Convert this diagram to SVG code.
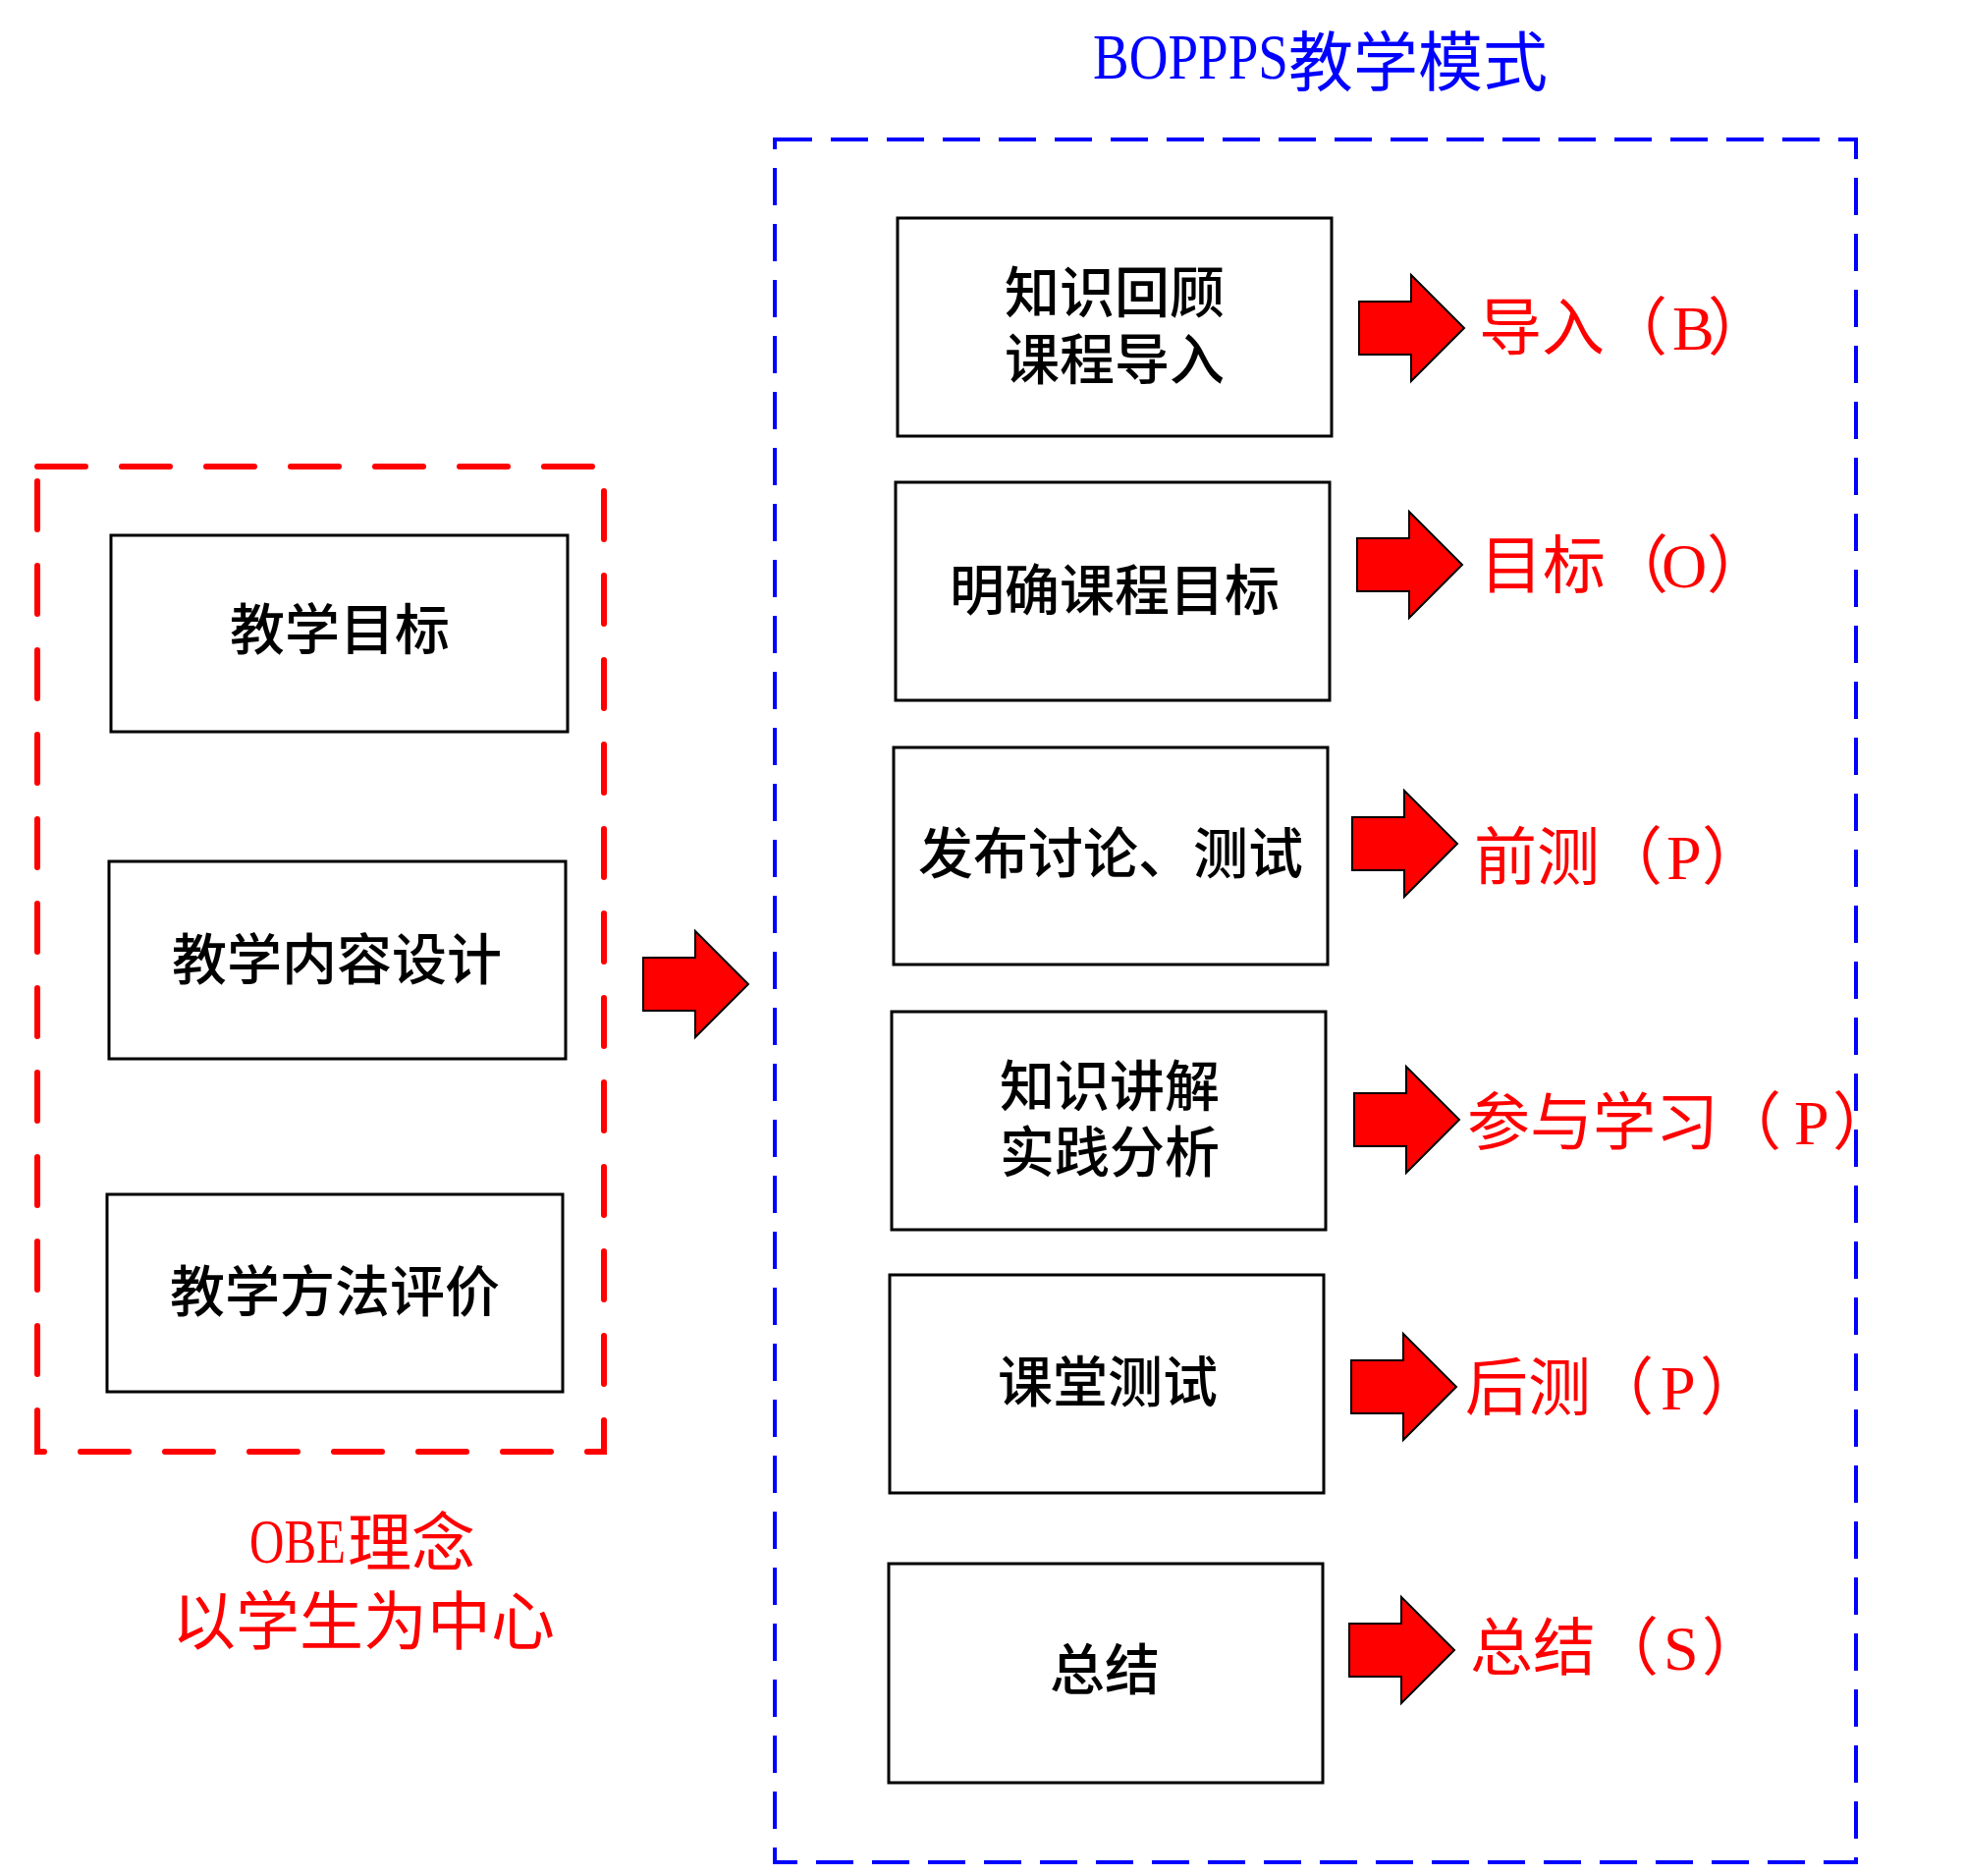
<svg xmlns="http://www.w3.org/2000/svg" xmlns:xlink="http://www.w3.org/1999/xlink" width="2000" height="1910" viewBox="0 0 2000 1910">
<style>
.box{fill:#fff;stroke:#000;stroke-width:3}
.cjk{font-family:"Noto Sans CJK SC","Noto Sans",sans-serif}
.lat{font-family:"Liberation Serif","Times New Roman",serif}
.bt{font-family:"Noto Sans CJK SC","Noto Sans",sans-serif;font-size:56px;font-weight:500;fill:#000;text-anchor:middle}
.rl{font-family:"Noto Sans CJK SC","Noto Sans",sans-serif;font-size:64px;fill:#f00}
.arrow{fill:#f00;stroke:#000;stroke-width:2;stroke-linejoin:miter}
</style>
<defs>
<path id="arr" d="M0,-27 H53 V-54 L107,0 L53,54 V27 H0 Z"/>
</defs>
<rect width="2000" height="1910" fill="#fff"/>

<g id="title">
<text fill="#0000ff" font-size="66"><tspan class="lat" x="1113" y="80" textLength="199" lengthAdjust="spacingAndGlyphs">BOPPPS</tspan><tspan class="cjk" x="1312" y="87">教学模式</tspan></text>
</g>

<g id="obe-frame">
<rect x="38" y="475" width="577" height="1003" fill="none" stroke="#f00" stroke-width="6" stroke-dasharray="49 37" stroke-linecap="round"/>
</g>
<g id="boppps-frame">
<rect x="789" y="142" width="1101" height="1754" fill="none" stroke="#0000ff" stroke-width="4" stroke-dasharray="38 19"/>
</g>

<g id="node-jxmb">
<rect class="box" x="113" y="545" width="465" height="200"/>
<text class="bt" x="346" y="661">教学目标</text>
</g>
<g id="node-jxnrsj">
<rect class="box" x="111" y="877" width="465" height="201"/>
<text class="bt" x="343" y="997">教学内容设计</text>
</g>
<g id="node-jxffpj">
<rect class="box" x="109" y="1216" width="464" height="201"/>
<text class="bt" x="341" y="1335">教学方法评价</text>
</g>

<g id="obe-label">
<text fill="#f00" font-size="65"><tspan class="lat" x="254" y="1591" font-size="64" textLength="98" lengthAdjust="spacingAndGlyphs">OBE</tspan><tspan class="cjk" x="354" y="1594">理念</tspan><tspan class="cjk" x="175" y="1674">以学生为中心</tspan></text>
</g>

<g id="node-r1">
<rect class="box" x="914" y="222" width="442" height="222"/>
<text class="bt"><tspan x="1135" y="318">知识回顾</tspan><tspan x="1135" y="386">课程导入</tspan></text>
</g>
<g id="node-r2">
<rect class="box" x="912" y="491" width="442" height="222"/>
<text class="bt" x="1135" y="621">明确课程目标</text>
</g>
<g id="node-r3">
<rect class="box" x="910" y="761" width="442" height="221"/>
<text class="bt" x="1131" y="889">发布讨论、测试</text>
</g>
<g id="node-r4">
<rect class="box" x="908" y="1030" width="442" height="222"/>
<text class="bt"><tspan x="1130" y="1126">知识讲解</tspan><tspan x="1130" y="1193">实践分析</tspan></text>
</g>
<g id="node-r5">
<rect class="box" x="906" y="1298" width="442" height="222"/>
<text class="bt" x="1128" y="1427">课堂测试</text>
</g>
<g id="node-r6">
<rect class="box" x="905" y="1592" width="442" height="223"/>
<text class="bt" x="1125" y="1720">总结</text>
</g>

<g id="connectors">
<use xlink:href="#arr" href="#arr" class="arrow" transform="translate(655,1002)"/>
<use xlink:href="#arr" href="#arr" class="arrow" transform="translate(1384,334)"/>
<use xlink:href="#arr" href="#arr" class="arrow" transform="translate(1382,575)"/>
<use xlink:href="#arr" href="#arr" class="arrow" transform="translate(1377,859)"/>
<use xlink:href="#arr" href="#arr" class="arrow" transform="translate(1379,1140)"/>
<use xlink:href="#arr" href="#arr" class="arrow" transform="translate(1376,1412)"/>
<use xlink:href="#arr" href="#arr" class="arrow" transform="translate(1374,1680)"/>
</g>

<g id="label-b">
<text class="rl" y="356"><tspan x="1506">导入（</tspan><tspan class="lat" x="1703">B</tspan><tspan x="1739">）</tspan></text>
</g>
<g id="label-o">
<text class="rl" y="598"><tspan x="1507">目标（</tspan><tspan class="lat" x="1692">O</tspan><tspan x="1738">）</tspan></text>
</g>
<g id="label-p1">
<text class="rl" y="895"><tspan x="1501">前测（</tspan><tspan class="lat" x="1697">P</tspan><tspan x="1733">）</tspan></text>
</g>
<g id="label-p2">
<text class="rl" y="1165"><tspan x="1494">参与学习（</tspan><tspan class="lat" x="1827">P</tspan><tspan x="1866">）</tspan></text>
</g>
<g id="label-p3">
<text class="rl" y="1435"><tspan x="1492">后测（</tspan><tspan class="lat" x="1691">P</tspan><tspan x="1731">）</tspan></text>
</g>
<g id="label-s">
<text class="rl" y="1700"><tspan x="1497">总结（</tspan><tspan class="lat" x="1694">S</tspan><tspan x="1733">）</tspan></text>
</g>
</svg>
